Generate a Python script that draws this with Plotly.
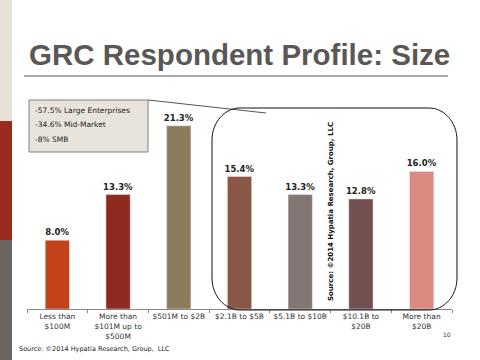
import plotly.graph_objects as go

categories = ["Less than<br>$100M", "More than<br>$101M up to<br>$500M", "$501M to $2B",
              "$2.1B to $5B", "$5.1B to $10B", "$10.1B to<br>$20B", "More than<br>$20B"]
values = [8.0, 13.3, 21.3, 15.4, 13.3, 12.8, 16.0]
colors = ["#c2421a", "#8e2a1e", "#8c7b5b", "#8a5646", "#847773", "#744f4f", "#dc8b82"]
box_lines = ["-57.5% Large Enterprises", "-34.6% Mid-Market", "-8% SMB"]

W, H = 480, 360
def px(x): return x / W
def py(y): return 1 - y / H

fig = go.Figure(go.Bar(
    x=categories, y=values, marker_color=colors, width=0.4,
    text=[f"<b>{v:.1f}%</b>" for v in values], textposition="outside",
    constraintext="none",
    textfont=dict(family="DejaVu Sans", size=8.5, color="#222222"),
    cliponaxis=False, hoverinfo="skip"))

# rounded rectangle path in paper coords
x0, x1, y0, y1 = 212, 457, 108, 310
rx, ry = 28, 32
def P(x, y): return f"{px(x):.5f},{py(y):.5f}"
k = 0.55
path = (f"M {P(x0+rx, y0)} L {P(x1-rx, y0)} "
        f"C {P(x1-rx+rx*k, y0)} {P(x1, y0+ry-ry*k)} {P(x1, y0+ry)} "
        f"L {P(x1, y1-ry)} "
        f"C {P(x1, y1-ry+ry*k)} {P(x1-rx+rx*k, y1)} {P(x1-rx, y1)} "
        f"L {P(x0+rx, y1)} "
        f"C {P(x0+rx-rx*k, y1)} {P(x0, y1-ry+ry*k)} {P(x0, y1-ry)} "
        f"L {P(x0, y0+ry)} "
        f"C {P(x0, y0+ry-ry*k)} {P(x0+rx-rx*k, y0)} {P(x0+rx, y0)} Z")

shapes = [
    dict(type="rect", xref="paper", yref="paper", x0=0, x1=px(12), y0=py(0), y1=py(121),
         fillcolor="#e6e2da", line_width=0, layer="below"),
    dict(type="rect", xref="paper", yref="paper", x0=0, x1=px(12), y0=py(121), y1=py(240),
         fillcolor="#9b2b1e", line_width=0, layer="below"),
    dict(type="rect", xref="paper", yref="paper", x0=0, x1=px(12), y0=py(240), y1=py(360),
         fillcolor="#6b6662", line_width=0, layer="below"),
    dict(type="line", xref="paper", yref="paper", x0=px(24), x1=px(448), y0=py(76), y1=py(76),
         line=dict(color="#555555", width=1)),
    dict(type="rect", xref="paper", yref="paper", x0=px(29), x1=px(148), y0=py(100), y1=py(152),
         fillcolor="#e8e4dc", line=dict(color="#808080", width=1)),
    dict(type="line", xref="paper", yref="paper", x0=px(148), x1=px(266), y0=py(100), y1=py(113),
         line=dict(color="#555555", width=1)),
    dict(type="path", xref="paper", yref="paper", path=path, line=dict(color="#111111", width=1)),
]

annotations = [
    dict(text="<b>GRC Respondent Profile: Size</b>", x=px(27), y=py(54), xref="paper", yref="paper",
         xanchor="left", yanchor="middle", showarrow=False,
         font=dict(family="Liberation Sans", size=29.5, color="#5c5757")),
    dict(text="Source: ©2014 Hypatia Research, Group,  LLC", x=px(17), y=py(349),
         xref="paper", yref="paper", xanchor="left", yanchor="middle", showarrow=False,
         font=dict(family="DejaVu Sans", size=6.5, color="#222222")),
    dict(text="<b>Source: ©2014 Hypatia Research, Group, LLC</b>", x=px(331), y=py(212),
         xref="paper", yref="paper", xanchor="center", yanchor="middle", showarrow=False,
         textangle=-90, font=dict(family="DejaVu Sans", size=7, color="#111111")),
    dict(text="10", x=px(447), y=py(334), xref="paper", yref="paper", xanchor="center",
         yanchor="middle", showarrow=False, font=dict(family="DejaVu Sans", size=6, color="#333333")),
]
for i, (line, yy) in enumerate(zip(box_lines, [110, 124, 139])):
    annotations.append(dict(text=line, x=px(33), y=py(yy), xref="paper", yref="paper",
                            xanchor="left", yanchor="middle", showarrow=False,
                            font=dict(family="DejaVu Sans", size=7.5, color="#222222")))

fig.update_layout(
    width=W, height=H, margin=dict(l=0, r=0, t=0, b=0),
    paper_bgcolor="white", plot_bgcolor="white", showlegend=False,
    xaxis=dict(domain=[px(27), px(452)], showline=True, linecolor="#888888", linewidth=1,
               ticks="outside", tickson="boundaries", ticklen=3, tickcolor="#888888",
               tickangle=0,
               tickfont=dict(family="DejaVu Sans", size=7.5, color="#333333"),
               showgrid=False, fixedrange=True),
    yaxis=dict(domain=[py(309), py(94)], range=[0, 25], visible=False, fixedrange=True),
    shapes=shapes, annotations=annotations, bargap=0.6,
)

fig.write_html("out.html", config={"displayModeBar": False},
               post_script="document.body.style.margin='0';document.body.style.overflow='hidden';")
